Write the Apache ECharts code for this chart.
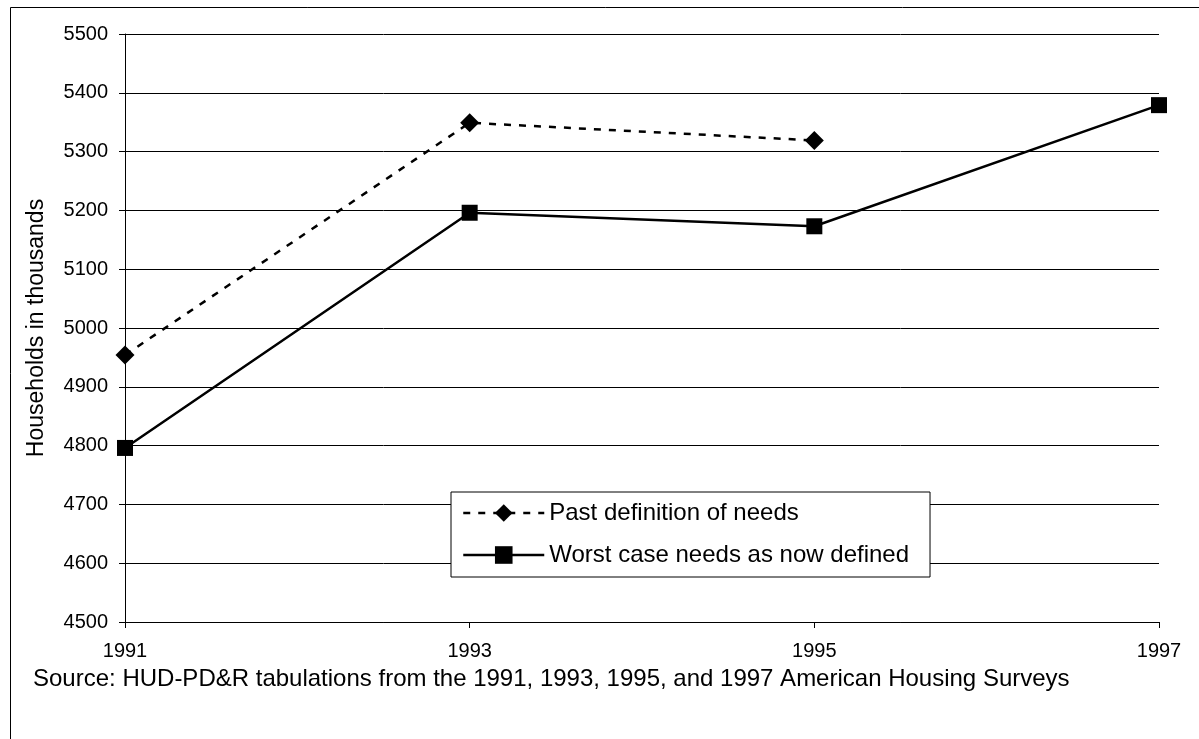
<!DOCTYPE html>
<html>
<head>
<meta charset="utf-8">
<script src="https://cdn.jsdelivr.net/npm/echarts@6/dist/echarts.min.js"></script>
<style>
html,body{margin:0;padding:0;background:#fff;}
#chart{width:1199px;height:739px;}
</style>
</head>
<body>
<div id="chart"></div>
<script>
const years = ['1991', '1993', '1995', '1997'];
const pastDefinition = [4954, 5349, 5319, null];
const worstCase = [4796, 5196, 5173, 5379];
const yTicks = { min: 4500, max: 5500, interval: 100 };
const seriesNames = ['Past definition of needs', 'Worst case needs as now defined'];
const yAxisTitle = 'Households in thousands';
const sourceNote = 'Source: HUD-PD&R tabulations from the 1991, 1993, 1995, and 1997 American Housing Surveys';

const font = 'Arial, "Liberation Sans", Helvetica, sans-serif';
const chart = echarts.init(document.getElementById('chart'), null, { renderer: 'canvas' });
chart.setOption({
  animation: false,
  backgroundColor: '#fff',
  grid: { left: 125, right: 40, top: 34, bottom: 117 },
  xAxis: {
    type: 'category',
    data: years,
    boundaryGap: false,
    axisLine: { lineStyle: { color: '#000', width: 1 } },
    axisTick: { show: true, length: 6, lineStyle: { color: '#000' } },
    axisLabel: { color: '#000', fontFamily: font, fontSize: 20, margin: 19 },
    splitLine: { show: false }
  },
  yAxis: {
    type: 'value',
    min: yTicks.min, max: yTicks.max, interval: yTicks.interval,
    name: yAxisTitle,
    nameLocation: 'middle',
    nameGap: 77,
    nameTextStyle: { color: '#000', fontFamily: font, fontSize: 23 },
    axisLine: { show: true, lineStyle: { color: '#000', width: 1 } },
    axisTick: { show: true, length: 6, lineStyle: { color: '#000' } },
    axisLabel: { color: '#000', fontFamily: font, fontSize: 20, margin: 17,
      formatter: function (v) { return String(v); } },
    splitLine: { show: true, lineStyle: { color: '#000', width: 1 } }
  },
  legend: {
    orient: 'vertical',
    left: 451, top: 492,
    backgroundColor: '#fff',
    borderColor: '#000', borderWidth: 1,
    padding: [9, 21, 10, 11],
    itemWidth: 81, itemHeight: 22, itemGap: 18,
    lineStyle: { width: 2.5 },
    textStyle: { color: '#000', fontFamily: font, fontSize: 24, lineHeight: 24 },
    data: seriesNames
  },
  series: [
    {
      name: seriesNames[0], type: 'line', data: pastDefinition,
      symbol: 'diamond', symbolSize: 19, showAllSymbol: true,
      lineStyle: { color: '#000', width: 2.5, type: [7, 8] },
      itemStyle: { color: '#000' }, z: 3
    },
    {
      name: seriesNames[1], type: 'line', data: worstCase,
      symbol: 'rect', symbolSize: 16, showAllSymbol: true,
      lineStyle: { color: '#000', width: 2.5, type: 'solid' },
      itemStyle: { color: '#000' }, z: 3
    }
  ],
  graphic: [
    { type: 'rect', left: 8, top: 5, z: -1, silent: true,
      shape: { width: 1220, height: 760 },
      style: { fill: 'none', stroke: '#000', lineWidth: 1 } },
    { type: 'text', left: 33, top: 667,
      style: { text: sourceNote, fill: '#000', font: '24px ' + font } }
  ]
});
</script>
</body>
</html>
